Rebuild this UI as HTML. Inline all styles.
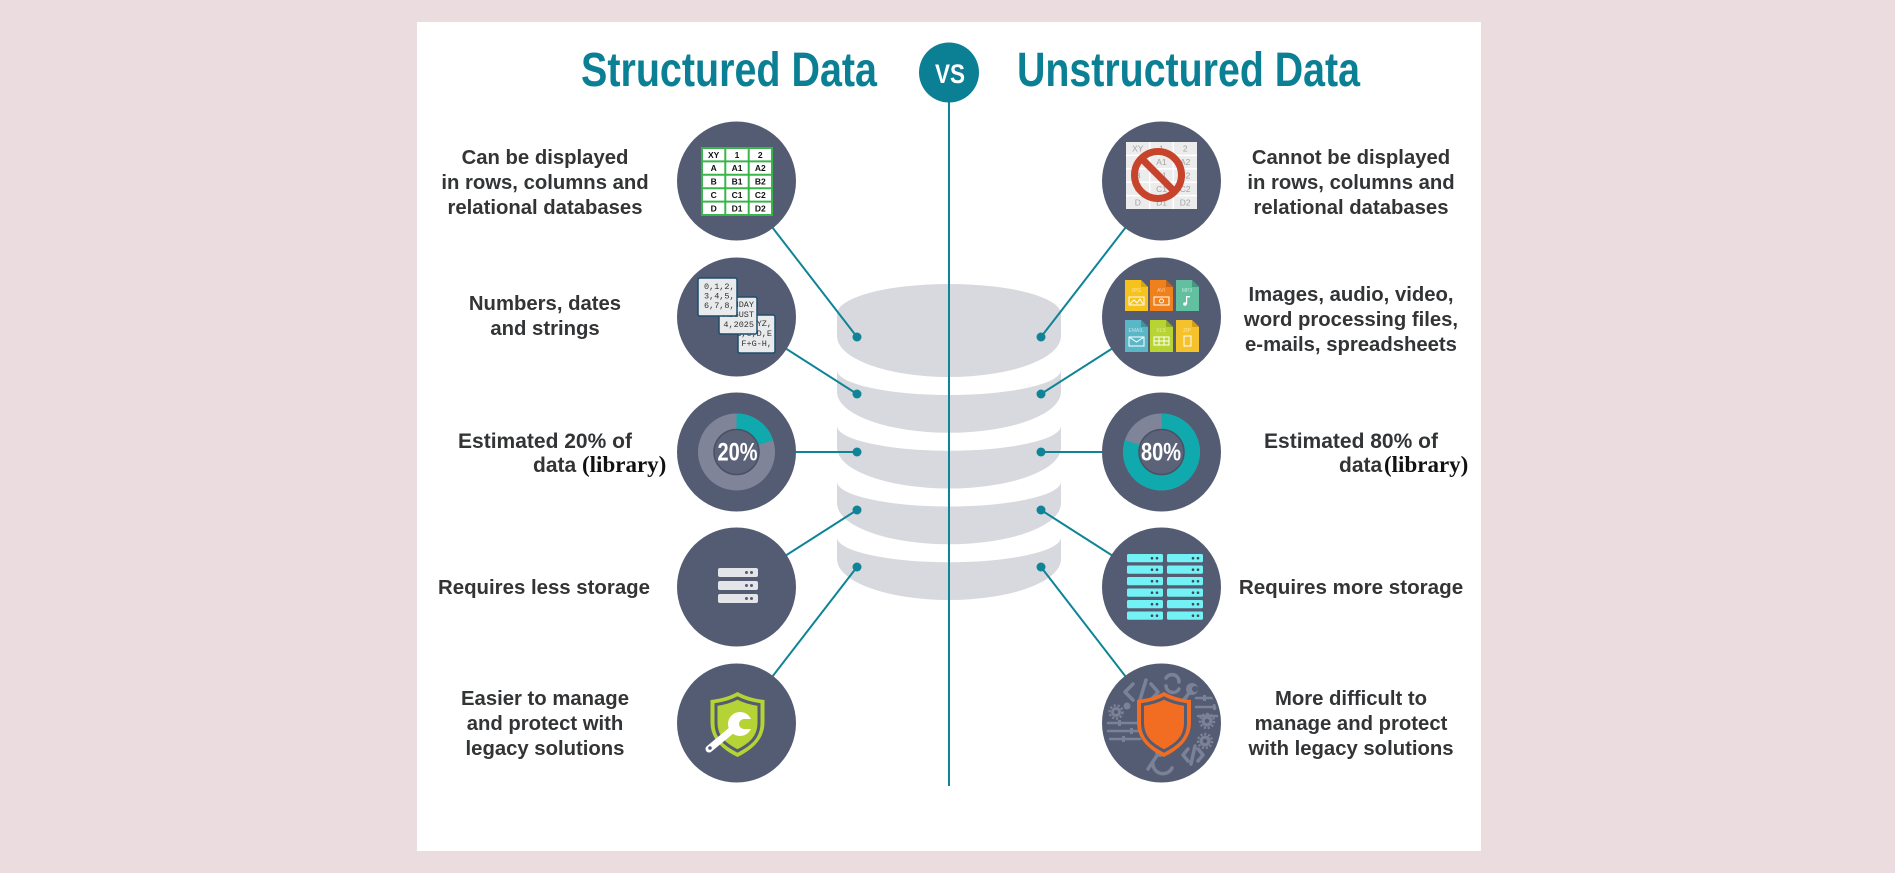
<!DOCTYPE html>
<html><head><meta charset="utf-8"><style>
html,body{margin:0;padding:0;width:1895px;height:873px;overflow:hidden;background:#ebdce0}
svg{display:block}
.t{font-family:"Liberation Sans",Arial,sans-serif;font-weight:bold;font-size:20.3px;fill:#323436}
.m{text-anchor:middle}
.lib{font-family:"Liberation Serif","Times New Roman",serif;font-weight:bold;font-size:23px;fill:#111}
.mono{font-family:"Liberation Mono","DejaVu Sans Mono",monospace;font-size:8.5px;fill:#333}
.tb{font-family:"Liberation Sans",Arial,sans-serif;font-weight:bold;font-size:8.5px;fill:#111;text-anchor:middle}
.tg{font-family:"Liberation Sans",Arial,sans-serif;font-size:8.5px;fill:#a3a3a3;text-anchor:middle}
.fl{font-family:"Liberation Sans",Arial,sans-serif;font-size:5px;fill:#fff;fill-opacity:.6;text-anchor:middle}
</style></head><body>
<svg width="1895" height="873" viewBox="0 0 1895 873" xmlns="http://www.w3.org/2000/svg">
<defs><clipPath id="c5"><circle cx="1161.5" cy="723" r="57"/></clipPath></defs>
<rect width="1895" height="873" fill="#ebdce0"/>
<rect x="417" y="22" width="1064" height="829" fill="#ffffff"/>

<!-- titles -->
<text x="581" y="86" font-family="Liberation Sans, Arial, sans-serif" font-weight="bold" font-size="48" fill="#0b8094" textLength="296" lengthAdjust="spacingAndGlyphs">Structured Data</text>
<text x="1017" y="86" font-family="Liberation Sans, Arial, sans-serif" font-weight="bold" font-size="48" fill="#0b8094" textLength="343" lengthAdjust="spacingAndGlyphs">Unstructured Data</text>

<!-- cylinder -->
<g fill="#d8d9de">
<path d="M837 314 A112 30 0 0 1 1061 314 L1061 336 A112 41 0 0 1 837 336 Z"/>
<path d="M837 370 A112 25 0 0 0 1061 370 L1061 391.75 A112 41 0 0 1 837 391.75 Z"/>
<path d="M837 425.75 A112 25 0 0 0 1061 425.75 L1061 447.5 A112 41 0 0 1 837 447.5 Z"/>
<path d="M837 481.5 A112 25 0 0 0 1061 481.5 L1061 503.25 A112 41 0 0 1 837 503.25 Z"/>
<path d="M837 537.25 A112 25 0 0 0 1061 537.25 L1061 559 A112 41 0 0 1 837 559 Z"/>
</g>

<!-- connectors -->
<g stroke="#0e8496" stroke-width="2" fill="none">
<line x1="949" y1="100" x2="949" y2="786"/>
<line x1="736.5" y1="181" x2="857" y2="337"/>
<line x1="736.5" y1="317" x2="857" y2="394"/>
<line x1="736.5" y1="452" x2="857" y2="452"/>
<line x1="736.5" y1="587" x2="857" y2="510"/>
<line x1="736.5" y1="723" x2="857" y2="567"/>
<line x1="1161.5" y1="181" x2="1041" y2="337"/>
<line x1="1161.5" y1="317" x2="1041" y2="394"/>
<line x1="1161.5" y1="452" x2="1041" y2="452"/>
<line x1="1161.5" y1="587" x2="1041" y2="510"/>
<line x1="1161.5" y1="723" x2="1041" y2="567"/>
</g>
<g fill="#0e8496">
<circle cx="857" cy="337" r="4.5"/><circle cx="857" cy="394" r="4.5"/><circle cx="857" cy="452" r="4.5"/><circle cx="857" cy="510" r="4.5"/><circle cx="857" cy="567" r="4.5"/>
<circle cx="1041" cy="337" r="4.5"/><circle cx="1041" cy="394" r="4.5"/><circle cx="1041" cy="452" r="4.5"/><circle cx="1041" cy="510" r="4.5"/><circle cx="1041" cy="567" r="4.5"/>
</g>

<!-- VS -->
<circle cx="949" cy="72.5" r="30" fill="#0b8094"/>
<text x="935" y="83" font-family="Liberation Sans, Arial, sans-serif" font-weight="bold" font-size="27" fill="#fff" textLength="30" lengthAdjust="spacingAndGlyphs">VS</text>

<!-- circles -->
<g fill="#545c73">
<circle cx="736.5" cy="181" r="59.5"/><circle cx="736.5" cy="317" r="59.5"/><circle cx="736.5" cy="452" r="59.5"/><circle cx="736.5" cy="587" r="59.5"/><circle cx="736.5" cy="723" r="59.5"/>
<circle cx="1161.5" cy="181" r="59.5"/><circle cx="1161.5" cy="317" r="59.5"/><circle cx="1161.5" cy="452" r="59.5"/><circle cx="1161.5" cy="587" r="59.5"/><circle cx="1161.5" cy="723" r="59.5"/>
</g>

<!-- icon 1 left: table -->
<rect x="702" y="148" width="70" height="67" fill="#fff" stroke="#3ab54a" stroke-width="2"/>
<g stroke="#3ab54a" stroke-width="2">
<line x1="725.3" y1="148" x2="725.3" y2="215"/><line x1="748.7" y1="148" x2="748.7" y2="215"/>
<line x1="702" y1="161.4" x2="772" y2="161.4"/><line x1="702" y1="174.8" x2="772" y2="174.8"/><line x1="702" y1="188.2" x2="772" y2="188.2"/><line x1="702" y1="201.6" x2="772" y2="201.6"/>
</g>
<text class="tb" x="713.7" y="157.8">XY</text><text class="tb" x="737" y="157.8">1</text><text class="tb" x="760.3" y="157.8">2</text>
<text class="tb" x="713.7" y="171.2">A</text><text class="tb" x="737" y="171.2">A1</text><text class="tb" x="760.3" y="171.2">A2</text>
<text class="tb" x="713.7" y="184.6">B</text><text class="tb" x="737" y="184.6">B1</text><text class="tb" x="760.3" y="184.6">B2</text>
<text class="tb" x="713.7" y="198">C</text><text class="tb" x="737" y="198">C1</text><text class="tb" x="760.3" y="198">C2</text>
<text class="tb" x="713.7" y="211.4">D</text><text class="tb" x="737" y="211.4">D1</text><text class="tb" x="760.3" y="211.4">D2</text>

<!-- icon 1 right: faded table + prohibition -->
<rect x="1126" y="142" width="71" height="67" fill="#ececec"/>
<g stroke="#fff" stroke-width="1.5">
<line x1="1149.7" y1="142" x2="1149.7" y2="209"/><line x1="1173.3" y1="142" x2="1173.3" y2="209"/>
<line x1="1126" y1="155.4" x2="1197" y2="155.4"/><line x1="1126" y1="168.8" x2="1197" y2="168.8"/><line x1="1126" y1="182.2" x2="1197" y2="182.2"/><line x1="1126" y1="195.6" x2="1197" y2="195.6"/>
</g>
<text class="tg" x="1137.8" y="151.7">XY</text><text class="tg" x="1161.5" y="151.7">1</text><text class="tg" x="1185.2" y="151.7">2</text>
<text class="tg" x="1137.8" y="165.1">A</text><text class="tg" x="1161.5" y="165.1">A1</text><text class="tg" x="1185.2" y="165.1">A2</text>
<text class="tg" x="1137.8" y="178.5">B</text><text class="tg" x="1161.5" y="178.5">B1</text><text class="tg" x="1185.2" y="178.5">B2</text>
<text class="tg" x="1137.8" y="191.9">C</text><text class="tg" x="1161.5" y="191.9">C1</text><text class="tg" x="1185.2" y="191.9">C2</text>
<text class="tg" x="1137.8" y="205.3">D</text><text class="tg" x="1161.5" y="205.3">D1</text><text class="tg" x="1185.2" y="205.3">D2</text>
<circle cx="1158" cy="175" r="23.5" fill="none" stroke="#c8432c" stroke-width="7"/>
<line x1="1141.4" y1="158.4" x2="1174.6" y2="191.6" stroke="#c8432c" stroke-width="7"/>

<!-- icon 2 left: cards -->
<rect x="738" y="315" width="37" height="38" rx="2" fill="#e9eaec" stroke="#1e4d6b" stroke-width="1.5"/>
<svg x="738" y="315" width="37" height="38">
<text class="mono" x="34" y="11" text-anchor="end">XYZ,</text>
<text class="mono" x="34" y="21" text-anchor="end">A,B,C,D,E</text>
<text class="mono" x="34" y="31" text-anchor="end">F+G-H,</text>
</svg>
<rect x="719" y="297" width="38" height="37" rx="2" fill="#e9eaec" stroke="#1e4d6b" stroke-width="1.5"/>
<svg x="719" y="297" width="38" height="37">
<text class="mono" x="35" y="10" text-anchor="end">MONDAY</text>
<text class="mono" x="35" y="20" text-anchor="end">AUGUST</text>
<text class="mono" x="35" y="30" text-anchor="end">4,2025</text>
</svg>
<rect x="698" y="278" width="39" height="38" rx="2" fill="#e9eaec" stroke="#1e4d6b" stroke-width="1.5"/>
<text class="mono" x="704" y="289">0,1,2,</text>
<text class="mono" x="704" y="298.5">3,4,5,</text>
<text class="mono" x="704" y="308">6,7,8,</text>

<!-- icon 2 right: files -->
<path d="M1125 280 h16 l7 7 v24 h-23 Z" fill="#f8c21c"/><path d="M1141 280 v7 h7 Z" fill="#d6a313"/>
<path d="M1150 280 h16 l7 7 v24 h-23 Z" fill="#ef801b"/><path d="M1166 280 v7 h7 Z" fill="#c4631a"/>
<path d="M1176 280 h16 l7 7 v24 h-23 Z" fill="#62c0a1"/><path d="M1192 280 v7 h7 Z" fill="#3f9a7f"/>
<path d="M1125 320 h16 l7 7 v25 h-23 Z" fill="#5ab7c7"/><path d="M1141 320 v7 h7 Z" fill="#3a94a4"/>
<path d="M1150 320 h16 l7 7 v25 h-23 Z" fill="#b8d433"/><path d="M1166 320 v7 h7 Z" fill="#92ab22"/>
<path d="M1176 320 h16 l7 7 v25 h-23 Z" fill="#f5c22c"/><path d="M1192 320 v7 h7 Z" fill="#d29e19"/>
<text class="fl" x="1136" y="292">JPG</text><text class="fl" x="1161" y="292">AVI</text><text class="fl" x="1187" y="292">MP3</text>
<text class="fl" x="1136" y="332">EMAIL</text><text class="fl" x="1161" y="332">XLS</text><text class="fl" x="1187" y="332">ZIP</text>
<g fill="none" stroke="#fff" stroke-width="1">
<rect x="1129" y="297" width="15" height="8"/><polyline points="1130,304 1134,300 1137,303 1140,299 1143,304"/>
<rect x="1154" y="297" width="15" height="8"/><circle cx="1161.5" cy="301" r="2"/>
<rect x="1129" y="337" width="15" height="9"/><polyline points="1129,337 1136.5,342 1144,337"/>
<rect x="1154" y="337" width="15" height="8"/><line x1="1154" y1="341" x2="1169" y2="341"/><line x1="1159" y1="337" x2="1159" y2="345"/><line x1="1164" y1="337" x2="1164" y2="345"/>
<rect x="1184" y="336" width="7" height="10"/>
</g>
<g fill="#fff"><circle cx="1185" cy="304" r="1.8"/><rect x="1186" y="296" width="1.2" height="8"/><rect x="1186" y="296" width="4" height="1.4"/></g>

<!-- icon 3: donuts -->
<circle cx="736.5" cy="452" r="30.75" fill="none" stroke="#7f8499" stroke-width="15.5"/>
<path d="M736.5 421.25 A30.75 30.75 0 0 1 765.74 442.5" fill="none" stroke="#10aaae" stroke-width="15.5"/>
<circle cx="736.5" cy="452" r="22.5" fill="#5c6379" stroke="#4a5066" stroke-width="1.5"/>
<text x="717.5" y="460.5" font-family="Liberation Sans, Arial, sans-serif" font-weight="bold" font-size="25" fill="#fff" textLength="40" lengthAdjust="spacingAndGlyphs">20%</text>
<circle cx="1161.5" cy="452" r="30.75" fill="none" stroke="#7f8499" stroke-width="15.5"/>
<path d="M1161.5 421.25 A30.75 30.75 0 1 1 1132.26 442.5" fill="none" stroke="#10aaae" stroke-width="15.5"/>
<circle cx="1161.5" cy="452" r="22.5" fill="#5c6379" stroke="#4a5066" stroke-width="1.5"/>
<text x="1141" y="460.5" font-family="Liberation Sans, Arial, sans-serif" font-weight="bold" font-size="25" fill="#fff" textLength="40" lengthAdjust="spacingAndGlyphs">80%</text>

<!-- icon 4: servers -->
<g fill="#e4e5e8">
<rect x="718" y="568" width="40" height="9" rx="2"/><rect x="718" y="581" width="40" height="9" rx="2"/><rect x="718" y="594" width="40" height="9" rx="2"/>
</g>
<g fill="#555b70">
<circle cx="746.5" cy="572.5" r="1.5"/><circle cx="751.5" cy="572.5" r="1.5"/>
<circle cx="746.5" cy="585.5" r="1.5"/><circle cx="751.5" cy="585.5" r="1.5"/>
<circle cx="746.5" cy="598.5" r="1.5"/><circle cx="751.5" cy="598.5" r="1.5"/>
</g>
<g fill="#72f2f4">
<rect x="1127" y="554" width="36" height="8.3" rx="1.5"/><rect x="1167" y="554" width="36" height="8.3" rx="1.5"/>
<rect x="1127" y="565.5" width="36" height="8.3" rx="1.5"/><rect x="1167" y="565.5" width="36" height="8.3" rx="1.5"/>
<rect x="1127" y="577" width="36" height="8.3" rx="1.5"/><rect x="1167" y="577" width="36" height="8.3" rx="1.5"/>
<rect x="1127" y="588.5" width="36" height="8.3" rx="1.5"/><rect x="1167" y="588.5" width="36" height="8.3" rx="1.5"/>
<rect x="1127" y="600" width="36" height="8.3" rx="1.5"/><rect x="1167" y="600" width="36" height="8.3" rx="1.5"/>
<rect x="1127" y="611.5" width="36" height="8.3" rx="1.5"/><rect x="1167" y="611.5" width="36" height="8.3" rx="1.5"/>
</g>
<g fill="#3d4a5c">
<circle cx="1152" cy="558.2" r="1.3"/><circle cx="1157" cy="558.2" r="1.3"/><circle cx="1193" cy="558.2" r="1.3"/><circle cx="1198" cy="558.2" r="1.3"/>
<circle cx="1152" cy="569.7" r="1.3"/><circle cx="1157" cy="569.7" r="1.3"/><circle cx="1193" cy="569.7" r="1.3"/><circle cx="1198" cy="569.7" r="1.3"/>
<circle cx="1152" cy="581.2" r="1.3"/><circle cx="1157" cy="581.2" r="1.3"/><circle cx="1193" cy="581.2" r="1.3"/><circle cx="1198" cy="581.2" r="1.3"/>
<circle cx="1152" cy="592.7" r="1.3"/><circle cx="1157" cy="592.7" r="1.3"/><circle cx="1193" cy="592.7" r="1.3"/><circle cx="1198" cy="592.7" r="1.3"/>
<circle cx="1152" cy="604.2" r="1.3"/><circle cx="1157" cy="604.2" r="1.3"/><circle cx="1193" cy="604.2" r="1.3"/><circle cx="1198" cy="604.2" r="1.3"/>
<circle cx="1152" cy="615.7" r="1.3"/><circle cx="1157" cy="615.7" r="1.3"/><circle cx="1193" cy="615.7" r="1.3"/><circle cx="1198" cy="615.7" r="1.3"/>
</g>

<!-- icon 5 left: green shield with wrench -->
<g transform="translate(737.5,692)">
<path d="M0 0 C9 5 18 7 27 8 L27 30 C27 48 14 58 0 65 C-14 58 -27 48 -27 30 L-27 8 C-18 7 -9 5 0 0 Z" fill="#b5d334"/>
<path d="M0 6 C7.5 10 14.5 11.5 21.5 12.5 L21.5 31 C21.5 46 11.5 53 0 59 C-11.5 53 -21.5 46 -21.5 31 L-21.5 12.5 C-14.5 11.5 -7.5 10 0 6 Z" fill="#b5d334" stroke="#545c73" stroke-width="3"/>
</g>
<line x1="738" y1="725" x2="709" y2="749" stroke="#fff" stroke-width="7" stroke-linecap="round"/>
<circle cx="740" cy="724" r="12" fill="#fff"/>
<circle cx="744" cy="724" r="5" fill="#b5d334"/>
<rect x="744" y="719" width="10" height="10" fill="#b5d334"/>
<circle cx="710" cy="748" r="1.8" fill="#545c73"/>

<!-- icon 5 right: gray decorations + orange shield -->
<g clip-path="url(#c5)">
<g fill="none" stroke="#7b8297" stroke-width="3.5" stroke-linecap="round" stroke-linejoin="round">
<polyline points="1133,684 1125,692 1133,700"/><line x1="1146" y1="680" x2="1139" y2="703"/><polyline points="1151,684 1158,692 1151,700"/>
<path d="M1166 678 A7 7 0 0 1 1179 682"/><path d="M1179 689 A7 7 0 0 1 1166 686"/>
<line x1="1182" y1="702" x2="1190" y2="692"/>
<line x1="1196" y1="698" x2="1230" y2="698" stroke-width="2.5"/><line x1="1196" y1="707" x2="1230" y2="707" stroke-width="2.5"/><line x1="1198" y1="716" x2="1226" y2="716" stroke-width="2.5"/>
<line x1="1108" y1="723" x2="1140" y2="723" stroke-width="2.5"/><line x1="1108" y1="731" x2="1140" y2="731" stroke-width="2.5"/><line x1="1110" y1="739" x2="1140" y2="739" stroke-width="2.5"/>
<line x1="1148" y1="769" x2="1158" y2="754"/>
<path d="M1153 764 A10 10 0 0 0 1172 768"/>
<polyline points="1188,749 1183,755 1188,761"/><line x1="1195" y1="746" x2="1191" y2="764"/><polyline points="1198,749 1203,755 1198,761"/>
</g>
<g fill="#7b8297">
<circle cx="1192" cy="689" r="6"/><circle cx="1116" cy="712" r="5"/><circle cx="1127" cy="706" r="3.5"/>
<circle cx="1207" cy="721" r="5.5"/><circle cx="1205" cy="741" r="5.5"/><circle cx="1160" cy="752" r="5"/>
<rect x="1203" y="695" width="3" height="6"/><rect x="1213" y="704" width="3" height="6"/><rect x="1206" y="713" width="3" height="6"/>
<rect x="1118" y="720" width="3" height="6"/><rect x="1130" y="728" width="3" height="6"/><rect x="1122" y="736" width="3" height="6"/>
</g>
<g fill="none" stroke="#7b8297" stroke-width="2.5" stroke-dasharray="2.2 1.8">
<circle cx="1116" cy="712" r="6.5"/><circle cx="1207" cy="721" r="7"/><circle cx="1205" cy="741" r="7"/>
</g>
<g fill="#545c73">
<circle cx="1195" cy="689" r="3"/><circle cx="1116" cy="712" r="2"/><circle cx="1207" cy="721" r="2.2"/><circle cx="1205" cy="741" r="2.2"/><circle cx="1162" cy="751" r="2"/>
</g>
</g>
<g transform="translate(1164,692)">
<path d="M0 0 C9 5 18 7 27 8 L27 30 C27 48 14 58 0 65 C-14 58 -27 48 -27 30 L-27 8 C-18 7 -9 5 0 0 Z" fill="#f26d21"/>
<path d="M0 6 C7.5 10 14.5 11.5 21.5 12.5 L21.5 31 C21.5 46 11.5 53 0 59 C-11.5 53 -21.5 46 -21.5 31 L-21.5 12.5 C-14.5 11.5 -7.5 10 0 6 Z" fill="#f26d21" stroke="#545c73" stroke-width="3"/>
</g>

<!-- left labels -->
<text class="t m" x="545" y="164">Can be displayed</text>
<text class="t m" x="545" y="189">in rows, columns and</text>
<text class="t m" x="545" y="214">relational databases</text>
<text class="t m" x="545" y="310">Numbers, dates</text>
<text class="t m" x="545" y="335">and strings</text>
<text class="t m" x="545" y="448" style="font-size:21px">Estimated 20% of</text>
<text class="t" x="533" y="472" style="font-size:21px">data</text>
<text class="lib" x="582" y="472">(library)</text>
<text class="t m" x="544" y="594" style="font-size:20.4px">Requires less storage</text>
<text class="t m" x="545" y="705">Easier to manage</text>
<text class="t m" x="545" y="730">and protect with</text>
<text class="t m" x="545" y="755">legacy solutions</text>

<!-- right labels -->
<text class="t m" x="1351" y="164">Cannot be displayed</text>
<text class="t m" x="1351" y="189">in rows, columns and</text>
<text class="t m" x="1351" y="214">relational databases</text>
<text class="t m" x="1351" y="301">Images, audio, video,</text>
<text class="t m" x="1351" y="326">word processing files,</text>
<text class="t m" x="1351" y="351">e-mails, spreadsheets</text>
<text class="t m" x="1351" y="448" style="font-size:21px">Estimated 80% of</text>
<text class="t" x="1339" y="472" style="font-size:21px">data</text>
<text class="lib" x="1384" y="472">(library)</text>
<text class="t m" x="1351" y="594" style="font-size:20.6px">Requires more storage</text>
<text class="t m" x="1351" y="705">More difficult to</text>
<text class="t m" x="1351" y="730">manage and protect</text>
<text class="t m" x="1351" y="755">with legacy solutions</text>
</svg>
</body></html>
